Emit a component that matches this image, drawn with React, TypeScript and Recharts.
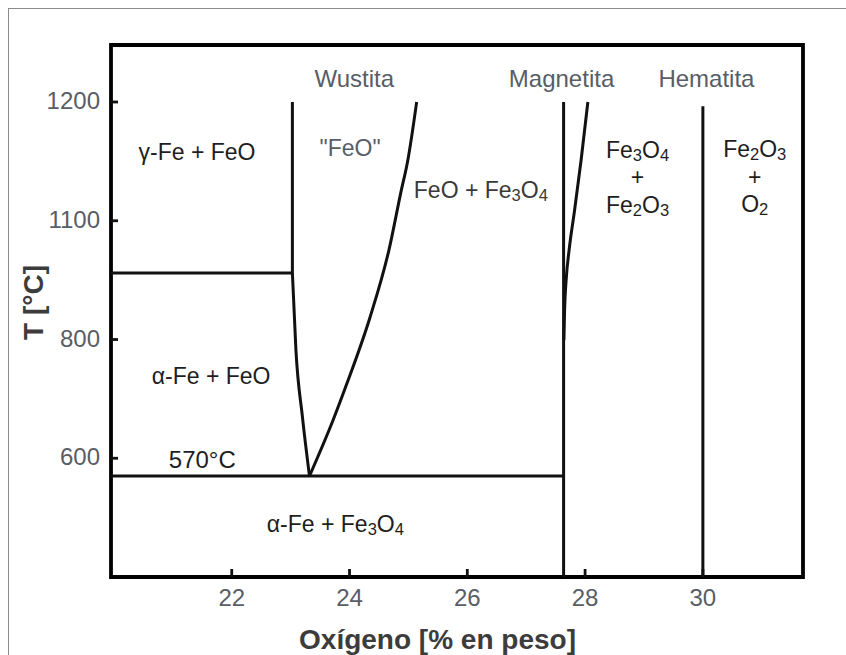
import React from 'react';
import { ComposedChart, Line, XAxis, YAxis, ReferenceArea, ReferenceDot, Label } from 'recharts';

// axes
const X_DOMAIN = [19.95, 31.7];
const Y_DOMAIN = [400, 1296];
const X_TICKS = [22, 24, 26, 28, 30];
const Y_TICKS = [600, 800, 1000, 1200];
const Y_TICK_LABELS = ['600', '800', '1100', '1200'];

// phase boundaries, x = oxígeno (% en peso), t = temperatura (°C)
const iso912 = [{ x: 19.95, t: 912 }, { x: 23.03, t: 912 }];
const iso570 = [{ x: 19.95, t: 570 }, { x: 27.635, t: 570 }];
const wustiteLeftTop = [{ x: 23.03, t: 1200 }, { x: 23.03, t: 912 }];
const wustiteLeftLow = [
    { x: 23.03, t: 912 },
    { x: 23.09, t: 782 },
    { x: 23.2, t: 670 },
    { x: 23.32, t: 570 }
];
const wustiteRight = [
    { x: 23.32, t: 570 },
    { x: 23.72, t: 664 },
    { x: 23.96, t: 727 },
    { x: 24.35, t: 838 },
    { x: 24.67, t: 951 },
    { x: 24.87, t: 1047 },
    { x: 24.99, t: 1102 },
    { x: 25.14, t: 1200 }
];
const magnetiteLeft = [{ x: 27.635, t: 400 }, { x: 27.635, t: 1200 }];
const magnetiteRight = [
    { x: 27.64, t: 799 },
    { x: 27.652, t: 850 },
    { x: 27.678, t: 900 },
    { x: 27.729, t: 951 },
    { x: 27.822, t: 1018 },
    { x: 27.932, t: 1102 },
    { x: 28.047, t: 1200 }
];
const hematite = [{ x: 30, t: 400 }, { x: 30, t: 1193 }];

const STRAIGHT = [iso912, iso570, wustiteLeftTop, magnetiteLeft, hematite];
const CURVED = [wustiteLeftLow, wustiteRight, magnetiteRight];

const GREY = '#585d66';
const DARK = '#1e1e1e';

// region / phase names ("_n" = subscript)
const NOTES = [
    { x: 24.08, t: 1225, lines: ['Wustita'], size: 24, color: GREY },
    { x: 27.6, t: 1225, lines: ['Magnetita'], size: 24, color: GREY },
    { x: 30.06, t: 1225, lines: ['Hematita'], size: 24, color: GREY },
    { x: 24.01, t: 1109, lines: ['"FeO"'], size: 23, color: GREY },
    { x: 21.41, t: 1102, lines: ['γ-Fe + FeO'], size: 23, color: DARK },
    { x: 26.23, t: 1038, lines: ['FeO + Fe_3O_4'], size: 23, color: '#3a3a3a' },
    { x: 28.89, t: 1106, lines: ['Fe_3O_4', '+', 'Fe_2O_3'], size: 23, color: DARK },
    { x: 30.88, t: 1107, lines: ['Fe_2O_3', '+', 'O_2'], size: 23, color: DARK },
    { x: 21.65, t: 725, lines: ['α-Fe + FeO'], size: 23, color: DARK },
    { x: 21.5, t: 583, lines: ['570°C'], size: 24, color: DARK },
    { x: 23.76, t: 476, lines: ['α-Fe + Fe_3O_4'], size: 23, color: DARK }
];

const FONT = '"Liberation Sans", Arial, sans-serif';

function formula(text: string, size: number) {
    const parts = text.split(/(_\d+)/).filter(Boolean);
    let shift = 0;
    return parts.map((p, i) => {
        if (p.startsWith('_')) {
            const el = (
                <tspan key={i} fontSize={size * 0.72} dy={3 - shift}>
                    {p.slice(1)}
                </tspan>
            );
            shift = 3;
            return el;
        }
        const el = (
            <tspan key={i} dy={-shift}>
                {p}
            </tspan>
        );
        shift = 0;
        return el;
    });
}

const renderNote = (note: (typeof NOTES)[number]) => (props: any) => {
    const vb = props.viewBox || {};
    return (
        <g>
            {note.lines.map((line, i) => (
                <text
                    key={i}
                    x={vb.x}
                    y={vb.y + i * 27.5}
                    textAnchor="middle"
                    fontFamily={FONT}
                    fontSize={note.size}
                    fill={note.color}
                >
                    {formula(line, note.size)}
                </text>
            ))}
        </g>
    );
};

const XTick = (props: any) => {
    const { x, y, payload } = props;
    return (
        <g>
            <line x1={x} y1={y} x2={x} y2={y - 8} stroke="#111" strokeWidth={2.8} />
            <text x={x} y={y + 29} textAnchor="middle" fontFamily={FONT} fontSize={24} fill={GREY}>
                {payload.value}
            </text>
        </g>
    );
};

const YTick = (props: any) => {
    const { x, y, payload } = props;
    const idx = Y_TICKS.indexOf(payload.value);
    return (
        <g>
            <line x1={x + 11} y1={y} x2={x + 18} y2={y} stroke="#111" strokeWidth={2.8} />
            <text x={x} y={y + 7} textAnchor="end" fontFamily={FONT} fontSize={24} fill={GREY}>
                {Y_TICK_LABELS[idx] ?? payload.value}
            </text>
        </g>
    );
};

const XTitle = (props: any) => {
    const vb = props.viewBox;
    return (
        <text
            x={vb.x + vb.width / 2 - 19.5}
            y={vb.y + 72}
            textAnchor="middle"
            fontFamily={FONT}
            fontSize={28}
            fontWeight="bold"
            fill="#3c3c3c"
        >
            Oxígeno [% en peso]
        </text>
    );
};

const YTitle = (props: any) => {
    const vb = props.viewBox;
    const cx = vb.x + 34.4;
    const cy = vb.y + vb.height / 2 - 8.5;
    return (
        <text
            x={cx}
            y={cy}
            transform={`rotate(-90 ${cx} ${cy})`}
            textAnchor="middle"
            fontFamily={FONT}
            fontSize={28}
            fontWeight="bold"
            fill="#3c3c3c"
        >
            T [°C]
        </text>
    );
};

export default function App() {
    return (
        <>
            <style>{'html{overflow:hidden;} svg{outline:none;}'}</style>
            {/* image frame: left and top edges only */}
            <div
                style={{
                    position: 'absolute',
                    left: 8,
                    top: 8,
                    width: 900,
                    height: 700,
                    borderLeft: '1px solid #8c8c8c',
                    borderTop: '1px solid #8c8c8c',
                    background: '#fff'
                }}
            />
            <div style={{ position: 'absolute', left: 9, top: 9, width: 829, height: 646 }}>
                <ComposedChart
                    width={829}
                    height={646}
                    margin={{ top: 36, right: 35, bottom: 0, left: 0 }}
                    accessibilityLayer={false}
                >
                    <XAxis
                        type="number"
                        dataKey="x"
                        domain={X_DOMAIN}
                        ticks={X_TICKS}
                        allowDataOverflow
                        height={78}
                        axisLine={false}
                        tickLine={false}
                        tickSize={0}
                        tickMargin={0}
                        tick={<XTick />}
                        interval={0}
                    >
                        <Label content={<XTitle />} />
                    </XAxis>
                    <YAxis
                        type="number"
                        domain={Y_DOMAIN}
                        ticks={Y_TICKS}
                        allowDataOverflow
                        width={102}
                        axisLine={false}
                        tickLine={false}
                        tickSize={0}
                        tickMargin={11}
                        tick={<YTick />}
                        interval={0}
                    >
                        <Label content={<YTitle />} />
                    </YAxis>
                    {STRAIGHT.map((d, i) => (
                        <Line
                            key={`s${i}`}
                            data={d}
                            dataKey="t"
                            type="linear"
                            stroke="#111"
                            strokeWidth={3}
                            dot={false}
                            activeDot={false}
                            isAnimationActive={false}
                        />
                    ))}
                    {CURVED.map((d, i) => (
                        <Line
                            key={`c${i}`}
                            data={d}
                            dataKey="t"
                            type="monotone"
                            stroke="#111"
                            strokeWidth={3}
                            dot={false}
                            activeDot={false}
                            isAnimationActive={false}
                        />
                    ))}
                    <ReferenceArea
                        x1={X_DOMAIN[0]}
                        x2={X_DOMAIN[1]}
                        y1={Y_DOMAIN[0]}
                        y2={Y_DOMAIN[1]}
                        fill="none"
                        fillOpacity={0}
                        stroke="#000"
                        strokeWidth={3.8}
                        ifOverflow="visible"
                    />
                    {NOTES.map((n, i) => (
                        <ReferenceDot
                            key={i}
                            x={n.x}
                            y={n.t}
                            r={0}
                            fill="none"
                            stroke="none"
                            ifOverflow="visible"
                            label={renderNote(n)}
                        />
                    ))}
                </ComposedChart>
            </div>
        </>
    );
}
